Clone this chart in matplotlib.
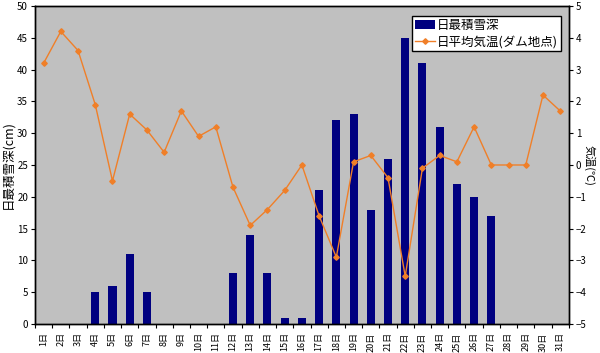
import numpy as np
import matplotlib.pyplot as plt
from matplotlib.ticker import MultipleLocator, FixedLocator

plt.rcParams['font.family'] = ['Noto Sans CJK JP', 'DejaVu Sans']

# data
days = [f"{d}日" for d in range(1, 32)]
snow_depth = [0, 0, 0, 5, 6, 11, 5, 0, 0, 0, 0, 8, 14, 8, 1, 1,
              21, 32, 33, 18, 26, 45, 41, 31, 22, 20, 17, 0, 0, 0, 0]
mean_temp = [3.2, 4.2, 3.6, 1.9, -0.5, 1.6, 1.1, 0.4, 1.7, 0.9, 1.2, -0.7,
             -1.9, -1.4, -0.8, 0.0, -1.6, -2.9, 0.1, 0.3, -0.4, -3.5, -0.1,
             0.3, 0.1, 1.2, 0.0, 0.0, 0.0, 2.2, 1.7]

x = np.arange(len(days))

fig = plt.figure(figsize=(6, 3.53), dpi=100)
ax = fig.add_axes([0.0583, 0.0822, 0.8897, 0.9008])
ax.set_facecolor('#C0C0C0')

bars = ax.bar(x, snow_depth, width=0.47, color='#000080', label='日最積雪深', zorder=2)
ax.set_xlim(-0.5, len(days) - 0.5)
ax.set_ylim(0, 50)
ax.yaxis.set_major_locator(MultipleLocator(5))
ax.set_xticks(x)
ax.set_xticklabels(days, rotation=90, fontsize=6.5)
ax.xaxis.set_minor_locator(FixedLocator(np.arange(-0.5, len(days), 1)))
ax.tick_params(axis='x', which='major', length=0, pad=6)
ax.tick_params(axis='x', which='minor', length=3, width=0.8)
ax.tick_params(axis='y', labelsize=7, length=3, width=0.8, pad=2, colors='black')
ax.set_ylabel('日最積雪深(cm)', fontsize=9, labelpad=2)

ax2 = ax.twinx()
line, = ax2.plot(x, mean_temp, color='#F07F28', lw=1, marker='D', markersize=2.8,
                 label='日平均気温(ダム地点)')
ax2.set_ylim(-5, 5)
ax2.yaxis.set_major_locator(MultipleLocator(1))
ax2.tick_params(axis='y', labelsize=7, length=3, width=0.8, pad=2)
ax2.set_ylabel('気温(℃)', fontsize=8, rotation=270, labelpad=4)
ax2.yaxis.set_label_coords(1.049, 0.5)

for a in (ax, ax2):
    for s in a.spines.values():
        s.set_linewidth(1.0)
        s.set_color('black')

leg = ax2.legend([bars, line], ['日最積雪深', '日平均気温(ダム地点)'],
                 loc='upper right', bbox_to_anchor=(0.985, 0.968),
                 fontsize=9, frameon=True, fancybox=False, framealpha=1,
                 edgecolor='black', borderpad=0.2, labelspacing=0.3,
                 handlelength=1.6, handletextpad=0.2, borderaxespad=0)
leg.get_frame().set_linewidth(1.0)

fig.savefig('out.png', dpi=100)
